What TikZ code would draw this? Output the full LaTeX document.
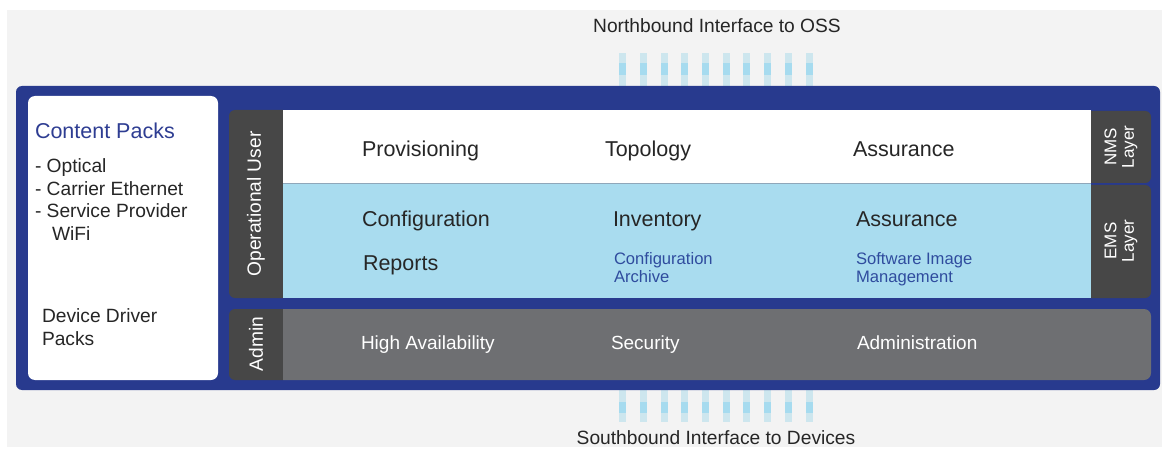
\documentclass[tikz,border=0pt]{standalone}
\usepackage{fontspec}
\setmainfont{Liberation Sans}
\definecolor{pagebg}{HTML}{F3F3F3}
\definecolor{frameblue}{HTML}{283A8E}
\definecolor{tabdark}{HTML}{474747}
\definecolor{admingrey}{HTML}{6E6F72}
\definecolor{emsblue}{HTML}{A9DCEF}
\definecolor{barpale}{HTML}{CDE6EE}
\definecolor{barmid}{HTML}{A6DBEF}
\definecolor{txtdark}{HTML}{262626}
\definecolor{txtblue}{HTML}{2E3D92}
\definecolor{smallblue}{HTML}{2F4C9E}
\definecolor{rowline}{HTML}{8FA7BA}
\begin{document}
\begin{tikzpicture}[x=1pt,y=-1pt,
  lbl/.style={inner sep=0pt,outer sep=0pt,text=txtdark},
  big/.style={lbl,anchor=base west,font=\fontsize{21.5}{24}\selectfont},
  mid/.style={lbl,font=\fontsize{19.2}{22.4}\selectfont},
  small/.style={lbl,anchor=base west,text=smallblue,font=\fontsize{16.6}{18.3}\selectfont},
  adm/.style={lbl,anchor=base west,text=white,font=\fontsize{19}{22}\selectfont},
  side/.style={lbl,text=white,rotate=90,align=center,font=\fontsize{17}{17.5}\selectfont}]
\useasboundingbox (0,0) rectangle (1167,449);
\fill[white] (0,0) rectangle (1167,449);
\fill[pagebg] (7,10) rectangle (1162,447);
% interface bars
\foreach \i in {0,...,9}{
  \pgfmathsetmacro\cx{622.7+20.7*\i}
  \fill[barpale] ({\cx-3.5},53) rectangle ({\cx+3.5},86);
  \fill[barmid] ({\cx-3.5},63) rectangle ({\cx+3.5},75);
  \fill[barpale] ({\cx-3.5},390) rectangle ({\cx+3.5},422);
  \fill[barmid] ({\cx-3.5},402) rectangle ({\cx+3.5},413);
}
% main frame
\fill[frameblue, rounded corners=6] (16,86) rectangle (1160,390);
\fill[white, rounded corners=7] (28,96) rectangle (218,380);
% operational tab
\begin{scope}
  \clip (229,110) rectangle (283,298);
  \fill[tabdark, rounded corners=6] (229,110) rectangle (300,298);
\end{scope}
% rows
\fill[white] (283,110) rectangle (1091,183);
\fill[emsblue] (283,183) rectangle (1091,298);
\draw[rowline, line width=0.8pt] (283,183) -- (1091,183);
% right tabs
\begin{scope}
  \clip (1091,110) rectangle (1151,183);
  \fill[tabdark, rounded corners=6] (1070,111) rectangle (1151,183);
\end{scope}
\begin{scope}
  \clip (1091,185) rectangle (1151,298);
  \fill[tabdark, rounded corners=6] (1070,185) rectangle (1151,298);
\end{scope}
% admin row
\begin{scope}
  \clip (229,309) rectangle (283,380);
  \fill[tabdark, rounded corners=6] (229,309) rectangle (300,380);
\end{scope}
\begin{scope}
  \clip (283,309) rectangle (1151,380);
  \fill[admingrey, rounded corners=7] (260,309) rectangle (1151,380);
\end{scope}
% texts
\node[mid,anchor=base] (nb) at (717,33) {Northbound Interface to OSS};
\node[mid,anchor=base] (sb) at (716,444) {Southbound Interface to Devices};
\node[lbl,anchor=base west,text=txtblue,font=\fontsize{21.5}{24}\selectfont] (cp) at (35,138.7) {Content Packs};
\node[mid,anchor=base west] (c1) at (35,173) {- Optical};
\node[mid,anchor=base west] (c2) at (35,195.4) {- Carrier Ethernet};
\node[mid,anchor=base west] (c3) at (35,217.8) {- Service Provider};
\node[mid,anchor=base west] (c4) at (52,240.2) {WiFi};
\node[mid,anchor=base west] (dd1) at (42,322) {Device Driver};
\node[mid,anchor=base west] (dd2) at (42,345) {Packs};
\node[mid,rotate=90,text=white] (ou) at (256,204) {Operational User};
\node[mid,rotate=90,text=white] (ad) at (256,344) {Admin};
\node[big] (prov) at (362,156.7) {Provisioning};
\node[big] (topo) at (605,156.7) {Topology};
\node[big] (nass) at (853,156.7) {Assurance};
\node[big] (conf) at (362,226.7) {Configuration};
\node[big] (rep) at (363,270.7) {Reports};
\node[big] (inv) at (613,226.7) {Inventory};
\node[big] (eass) at (856,226.7) {Assurance};
\node[small] (carch1) at (614,264) {Configuration};
\node[small] (carch2) at (614,282.3) {Archive};
\node[small] (sim1) at (856,264) {Software Image};
\node[small] (sim2) at (856,282.3) {Management};
\node[adm] (ha) at (361,349) {High Availability};
\node[adm] (sec) at (611,349) {Security};
\node[adm] (adm) at (857,349) {Administration};
\node[side] (nms) at (1121,147) {NMS\\Layer};
\node[side] (ems) at (1121,241) {EMS\\Layer};
\end{tikzpicture}
\end{document}
